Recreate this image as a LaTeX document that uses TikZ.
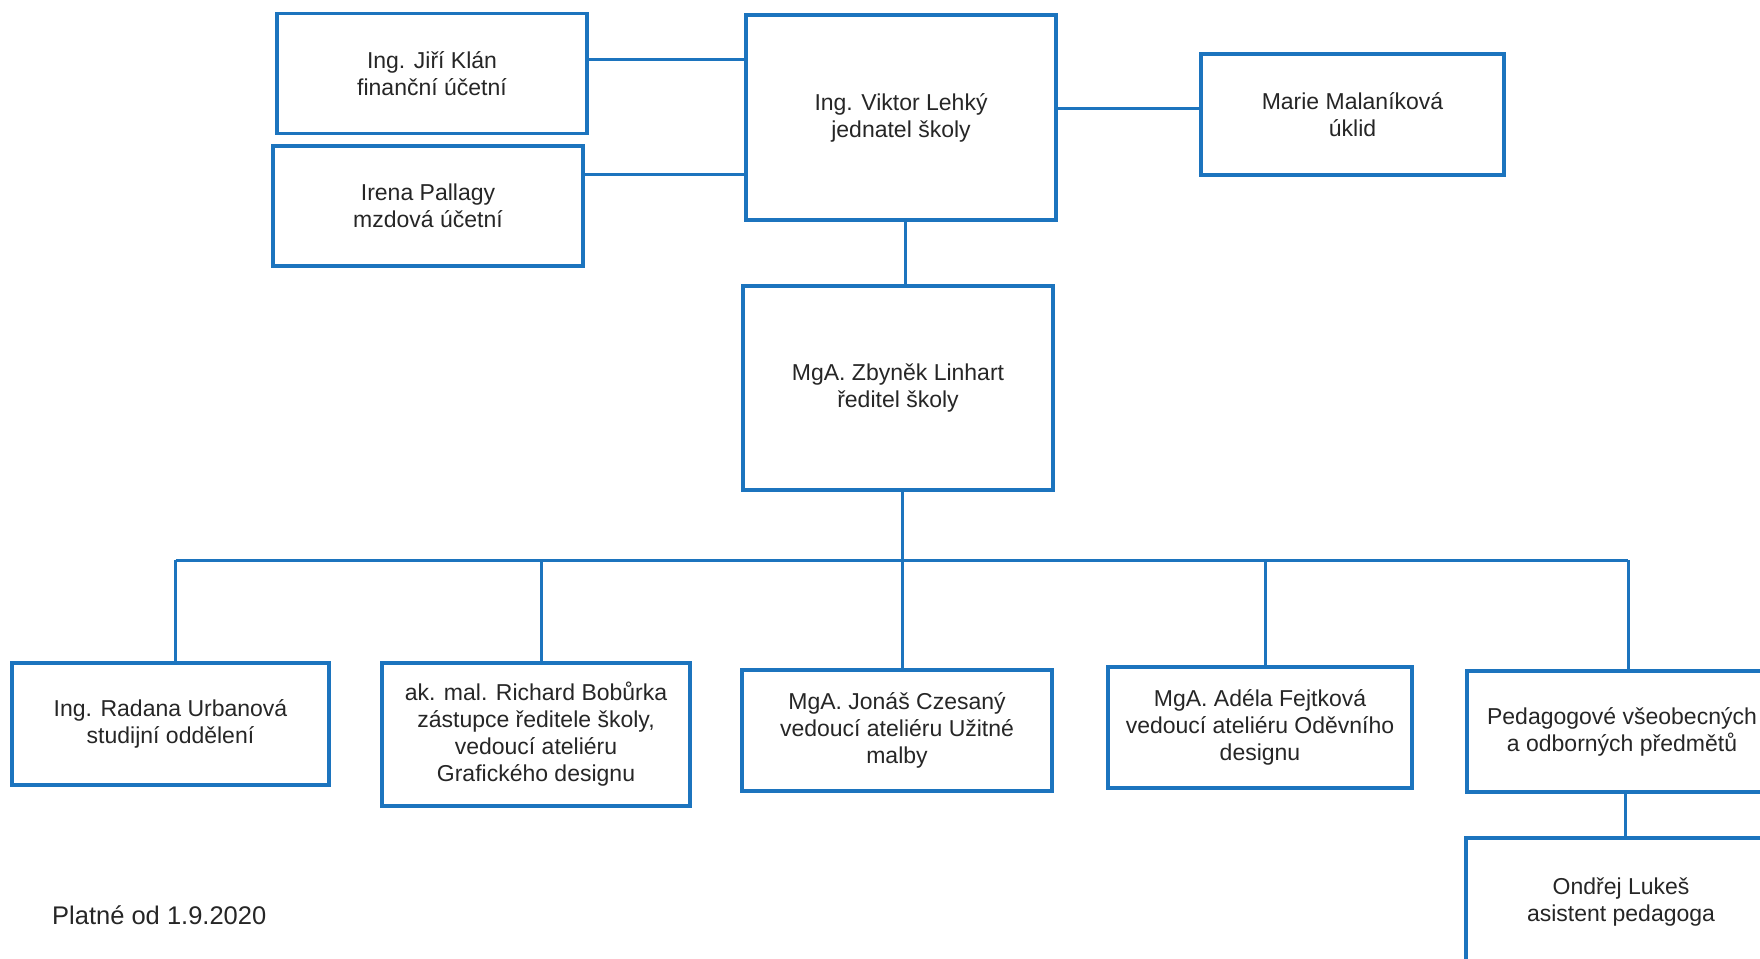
\documentclass[tikz,border=0pt]{standalone}
\usepackage{fontspec}
\setmainfont{Liberation Sans}
\definecolor{orgblue}{RGB}{28,116,190}
\begin{document}
\begin{tikzpicture}[x=1pt,y=-1pt,
  box/.style={draw=orgblue, line width=3.5pt, fill=white, inner sep=0pt, align=center,
    font=\fontsize{23}{27}\selectfont, text=black!85},
  link/.style={draw=orgblue, line width=3pt}]
\useasboundingbox (0,0) rectangle (1760,958);
\clip (0,0) rectangle (1760,958);
\fill[white] (0,0) rectangle (1760,958);
% top level
\node[box, minimum width=310pt, minimum height=120pt] (klan) at (432,73.5) {Ing. Jiří Klán\\finanční účetní};
\node[box, minimum width=310pt, minimum height=120pt] (pallagy) at (428,206) {Irena Pallagy\\mzdová účetní};
\node[box, line width=4pt, minimum width=310pt, minimum height=205pt] (lehky) at (901,117.5) {Ing. Viktor Lehký\\jednatel školy};
\node[box, minimum width=303pt, minimum height=121pt] (malanik) at (1352.5,114.5) {Marie Malaníková\\úklid};
\node[box, line width=4pt, minimum width=310pt, minimum height=204pt] (linhart) at (898,388) {MgA. Zbyněk Linhart\\ředitel školy};
% bottom level
\node[box, minimum width=317pt, minimum height=122pt] (urbanova) at (170.5,724) {Ing. Radana Urbanová\\studijní oddělení};
\node[box, minimum width=308pt, minimum height=143pt] (bob) at (536,734.5) {ak. mal. Richard Bobůrka\\zástupce ředitele školy,\\vedoucí ateliéru\\Grafického designu};
\node[box, minimum width=310pt, minimum height=121pt] (czes) at (897,730.5) {MgA. Jonáš Czesaný\\vedoucí ateliéru Užitné\\malby};
\node[box, minimum width=304pt, minimum height=121pt] (fejt) at (1260,727.5) {MgA. Adéla Fejtková\\vedoucí ateliéru Oděvního\\designu};
\node[box, minimum width=310pt, minimum height=121pt] (ped) at (1622,731.5) {Pedagogové všeobecných\\a odborných předmětů};
\node[box, minimum width=310pt, minimum height=128pt] (lukes) at (1621,902) {Ondřej Lukeš\\asistent pedagoga};
\node[anchor=west, inner sep=0pt, font=\fontsize{25.5}{30}\selectfont, text=black!85] (valid) at (52,915) {Platné od 1.9.2020};
% connectors
\coordinate (bus) at (0,560);
\draw[link] ([yshift=14pt]klan.east) -- ([yshift=14pt]klan.east -| lehky.west);
\draw[link] ([yshift=32pt]pallagy.east) -- ([yshift=32pt]pallagy.east -| lehky.west);
\draw[link] ([yshift=6pt]malanik.west) -- ([yshift=6pt]malanik.west -| lehky.east);
\draw[link] ([xshift=4pt]lehky.south) -- ([xshift=4pt]lehky.south |- linhart.north);
\draw[link] ([xshift=4pt]linhart.south) -- ([xshift=4pt]linhart.south |- bus);
\draw[link] ([xshift=5pt]urbanova.north |- bus) -- ([xshift=6pt]ped.north |- bus);
\draw[link] ([xshift=5pt]urbanova.north) -- ([xshift=5pt]urbanova.north |- bus);
\draw[link] ([xshift=5pt]bob.north) -- ([xshift=5pt]bob.north |- bus);
\draw[link] ([xshift=5pt]czes.north) -- ([xshift=5pt]czes.north |- bus);
\draw[link] ([xshift=5pt]fejt.north) -- ([xshift=5pt]fejt.north |- bus);
\draw[link] ([xshift=6pt]ped.north) -- ([xshift=6pt]ped.north |- bus);
\draw[link] ([xshift=3pt]ped.south) -- ([xshift=3pt]ped.south |- lukes.north);
\end{tikzpicture}
\end{document}
